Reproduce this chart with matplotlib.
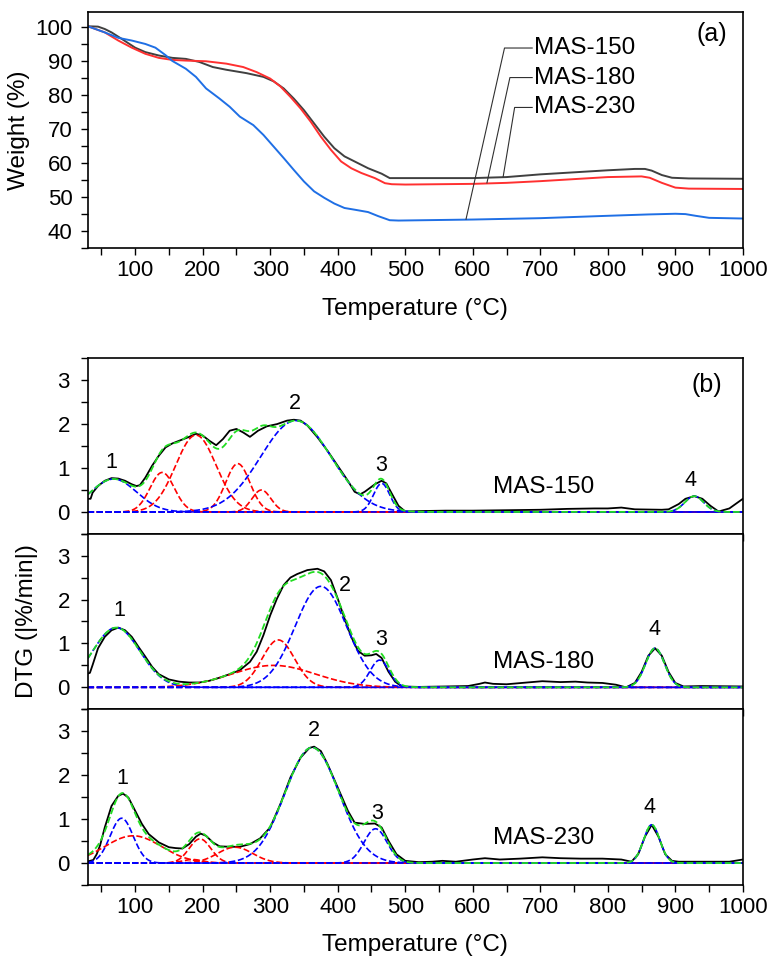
import numpy as np
import matplotlib.pyplot as plt
from matplotlib.ticker import MultipleLocator

plt.rcParams['font.family'] = ['Liberation Sans', 'DejaVu Sans']

# ---------------- (a) TGA curves ----------------
tga150_t = [30, 45, 55, 65, 80, 100, 115, 135, 155, 175, 195, 215, 235, 265, 290, 305, 320, 335,
            350, 365, 380, 395, 410, 425, 445, 465, 477, 500, 600, 650, 700, 750, 800, 840, 855,
            865, 880, 895, 920, 1000]
tga150_w = [100.3, 100.2, 99.5, 98.5, 96.6, 94.0, 92.7, 91.7, 91.0, 90.7, 89.8, 88.3, 87.5, 86.5,
            85.4, 84.1, 82.0, 79.0, 75.6, 71.7, 67.8, 64.4, 62.0, 60.5, 58.5, 56.9, 55.6, 55.6,
            55.6, 55.9, 56.7, 57.3, 57.9, 58.3, 58.3, 57.8, 56.5, 55.7, 55.5, 55.4]

tga180_t = [30, 55, 75, 95, 115, 135, 155, 175, 205, 235, 260, 280, 300, 315, 330, 345, 360, 375,
            390, 405, 420, 435, 455, 470, 480, 500, 600, 650, 700, 750, 800, 850, 862, 880, 900,
            920, 1000]
tga180_w = [100.3, 98.5, 96.1, 94.0, 92.2, 91.0, 90.4, 90.2, 90.0, 89.3, 88.3, 86.8, 84.9, 82.6,
            79.5, 76.1, 72.2, 67.8, 63.9, 60.5, 58.5, 57.1, 55.6, 54.1, 53.8, 53.7, 53.9, 54.2,
            54.7, 55.3, 55.9, 56.1, 55.7, 54.2, 52.8, 52.5, 52.4]

tga230_t = [30, 55, 75, 95, 115, 130, 145, 155, 175, 190, 205, 225, 240, 255, 275, 290, 305, 320,
            335, 350, 365, 380, 395, 410, 425, 445, 460, 477, 490, 600, 700, 800, 860, 900, 915,
            930, 950, 1000]
tga230_w = [100.3, 98.5, 96.9, 96.1, 95.1, 94.0, 91.8, 90.1, 87.8, 85.4, 82.0, 79.0, 76.6, 73.7,
            71.2, 68.3, 64.9, 61.5, 58.0, 54.6, 51.7, 49.8, 48.1, 46.8, 46.3, 45.6, 44.4, 43.2,
            43.1, 43.4, 43.8, 44.5, 44.9, 45.1, 45.0, 44.5, 43.9, 43.7]

tga_names = ['MAS-150', 'MAS-180', 'MAS-230']
# leader lines: text height, elbow T, end point on curve
lead_text_y = [93.9, 85.2, 76.4]
lead_elbow_t = [647, 655, 662]
lead_end_t = [590, 621, 645]
lead_end_w = [43.5, 54.2, 56.0]

# ---------------- (b) DTG curves ----------------
dtg150_t = [31, 34, 37, 45, 55, 65, 75, 85, 95, 102, 107, 115, 125, 135, 145, 155, 170, 180, 190,
            200, 210, 220, 230, 240, 250, 260, 270, 282, 295, 310, 325, 335, 345, 355, 370, 385,
            400, 415, 425, 433, 440, 455, 465, 472, 480, 490, 500, 520, 560, 600, 650, 700, 740,
            780, 800, 820, 840, 880, 890, 905, 915, 928, 940, 952, 964, 980, 1000]
dtg150_v = [0.30, 0.30, 0.44, 0.59, 0.71, 0.77, 0.76, 0.71, 0.63, 0.59, 0.61, 0.78, 1.05, 1.28,
            1.47, 1.56, 1.65, 1.71, 1.78, 1.74, 1.62, 1.52, 1.66, 1.85, 1.89, 1.81, 1.71, 1.85,
            1.95, 2.00, 2.08, 2.10, 2.08, 1.97, 1.70, 1.39, 1.05, 0.71, 0.46, 0.40, 0.46, 0.63,
            0.71, 0.65, 0.42, 0.14, 0.01, 0.02, 0.03, 0.03, 0.04, 0.05, 0.07, 0.08, 0.08, 0.10,
            0.06, 0.05, 0.06, 0.18, 0.30, 0.36, 0.30, 0.14, 0.01, 0.08, 0.30]

dtg180_t = [31, 33, 37, 45, 55, 65, 75, 85, 95, 105, 115, 125, 135, 150, 165, 180, 195, 210, 225,
            240, 255, 270, 280, 290, 300, 310, 320, 330, 340, 355, 370, 380, 390, 400, 410, 420,
            430, 440, 450, 457, 465, 475, 485, 495, 520, 560, 593, 610, 618, 630, 650, 680, 703,
            730, 752, 770, 792, 812, 827, 840, 850, 860, 870, 880, 890, 900, 912, 940, 1000]
dtg180_v = [0.32, 0.33, 0.51, 0.89, 1.15, 1.30, 1.36, 1.30, 1.15, 0.92, 0.70, 0.47, 0.30, 0.18,
            0.13, 0.11, 0.11, 0.15, 0.22, 0.30, 0.39, 0.58, 0.81, 1.19, 1.64, 2.02, 2.33, 2.50,
            2.58, 2.67, 2.70, 2.64, 2.44, 2.02, 1.57, 1.15, 0.83, 0.72, 0.73, 0.76, 0.67, 0.36,
            0.13, 0.02, 0.01, 0.02, 0.03, 0.08, 0.11, 0.08, 0.07, 0.11, 0.14, 0.12, 0.13, 0.11,
            0.10, 0.06, 0.00, 0.10, 0.35, 0.72, 0.89, 0.72, 0.35, 0.10, 0.02, 0.03, 0.02]

dtg230_t = [31, 38, 43, 48, 55, 65, 75, 82, 90, 100, 110, 120, 135, 150, 160, 170, 180, 190, 197,
            205, 215, 225, 240, 255, 270, 285, 300, 315, 330, 345, 358, 365, 375, 385, 400, 415,
            425, 440, 455, 465, 475, 487, 500, 520, 540, 555, 575, 600, 618, 640, 670, 703, 730,
            760, 792, 820, 835, 845, 855, 865, 875, 885, 895, 905, 950, 980, 1000]
dtg230_v = [0.04, 0.07, 0.20, 0.40, 0.81, 1.30, 1.53, 1.58, 1.49, 1.19, 0.89, 0.66, 0.47, 0.36,
            0.34, 0.33, 0.43, 0.60, 0.67, 0.62, 0.47, 0.38, 0.37, 0.37, 0.43, 0.56, 0.81, 1.34,
            1.95, 2.40, 2.62, 2.65, 2.55, 2.25, 1.72, 1.19, 0.92, 0.89, 0.90, 0.81, 0.51, 0.20,
            0.05, 0.02, 0.03, 0.05, 0.03, 0.08, 0.11, 0.08, 0.10, 0.13, 0.11, 0.10, 0.10, 0.08,
            0.03, 0.20, 0.60, 0.87, 0.60, 0.20, 0.05, 0.03, 0.03, 0.03, 0.08]

# deconvolution peaks: centre (°C), height, sigma (°C), colour
pk150_c = [68, 140, 190, 252, 287, 338, 465, 928]
pk150_h = [0.75, 0.90, 1.75, 1.10, 0.50, 2.08, 0.65, 0.36]
pk150_s = [34, 18, 30, 18, 14, 52, 12, 14]
pk150_col = ['b', 'r', 'r', 'r', 'r', 'b', 'b', 'b']

pk180_c = [72, 305, 312, 375, 462, 870]
pk180_h = [1.36, 0.50, 1.08, 2.30, 0.62, 0.89]
pk180_s = [35, 62, 24, 38, 14, 14]
pk180_col = ['b', 'r', 'r', 'b', 'b', 'b']

pk230_c = [80, 97, 185, 196, 248, 362, 456, 865]
pk230_h = [1.02, 0.62, 0.08, 0.55, 0.36, 2.63, 0.78, 0.87]
pk230_s = [17, 42, 15, 16, 26, 40, 17, 12]
pk230_col = ['b', 'r', 'r', 'r', 'r', 'b', 'b', 'b']

# peak number labels (T, y)
num150 = [(65, 1.13), (337, 2.46), (465, 1.05), (922, 0.72)]
num180 = [(77, 1.76), (410, 2.33), (465, 1.08), (869, 1.31)]
num230 = [(81, 1.93), (365, 3.02), (459, 1.13), (861, 1.27)]

fig = plt.figure(figsize=(7.71, 9.69), dpi=100)

FS_TICK = 16
FS_LAB = 17.5

# ---------- panel (a) ----------
ax = fig.add_axes([0.114, 0.744, 0.8495, 0.2436])
ax.plot(tga150_t, tga150_w, color='#404040', lw=1.4)
ax.plot(tga180_t, tga180_w, color='#ff3030', lw=1.4)
ax.plot(tga230_t, tga230_w, color='#1f6fe5', lw=1.4)
for i, name in enumerate(tga_names):
    ax.plot([688, lead_elbow_t[i], lead_end_t[i]],
            [lead_text_y[i], lead_text_y[i], lead_end_w[i]], color='#303030', lw=0.8)
    ax.text(690, lead_text_y[i], name, fontsize=17.5, va='center', ha='left')
ax.text(0.976, 0.907, '(a)', transform=ax.transAxes, fontsize=18, ha='right', va='center')
ax.set_xlim(30, 1000)
ax.set_ylim(35, 104.5)
ax.set_xticks([100, 200, 300, 400, 500, 600, 700, 800, 900, 1000])
ax.xaxis.set_minor_locator(MultipleLocator(50))
ax.yaxis.set_major_locator(MultipleLocator(10))
ax.yaxis.set_minor_locator(MultipleLocator(5))
ax.tick_params(which='both', direction='out', length=5, width=1, labelsize=FS_TICK)
ax.tick_params(axis='y', pad=6)
ax.set_xlabel('Temperature (°C)', fontsize=FS_LAB, labelpad=12)
ax.set_ylabel('Weight (%)', fontsize=FS_LAB, labelpad=4)
for sp in ax.spines.values():
    sp.set_linewidth(1.2)

# ---------- panel (b) ----------
T = np.linspace(30, 1000, 971)
panels = [
    (dtg150_t, dtg150_v, pk150_c, pk150_h, pk150_s, pk150_col, num150, 'MAS-150', 0.449),
    (dtg180_t, dtg180_v, pk180_c, pk180_h, pk180_s, pk180_col, num180, 'MAS-180', 0.268),
    (dtg230_t, dtg230_v, pk230_c, pk230_h, pk230_s, pk230_col, num230, 'MAS-230', 0.0867),
]
axes = []
for k, (tt, vv, pc, ph, ps, pcol, nums, name, bot) in enumerate(panels):
    axb = fig.add_axes([0.114, bot, 0.8495, 0.1813])
    axes.append(axb)
    axb.plot(tt, vv, color='black', lw=1.3)
    fit = np.zeros_like(T)
    for c, h, s, col in zip(pc, ph, ps, pcol):
        g = h * np.exp(-(T - c) ** 2 / (2 * s ** 2))
        fit += g
        axb.plot(T, g, ls='--', lw=1.2, color='#ff0000' if col == 'r' else '#0000ff')
    axb.plot(T, fit, ls='--', lw=1.3, color='#22dd22')
    for j, (x, y) in enumerate(nums):
        axb.text(x, y, str(j + 1), fontsize=15.5, ha='center', va='center')
    axb.text(705, 0.57, name, fontsize=17.5, ha='center', va='center')
    axb.set_xlim(30, 1000)
    axb.set_ylim(-0.5, 3.5)
    axb.set_xticks([100, 200, 300, 400, 500, 600, 700, 800, 900, 1000])
    axb.xaxis.set_minor_locator(MultipleLocator(50))
    axb.set_yticks([0, 1, 2, 3])
    axb.yaxis.set_minor_locator(MultipleLocator(0.5))
    axb.tick_params(which='both', direction='out', length=5, width=1, labelsize=FS_TICK)
    axb.tick_params(axis='y', pad=8)
    if k < 2:
        axb.tick_params(axis='x', labelbottom=False)
    for sp in axb.spines.values():
        sp.set_linewidth(1.2)

axes[0].text(0.969, 0.846, '(b)', transform=axes[0].transAxes, fontsize=18, ha='right', va='center')
axes[1].set_ylabel('DTG (|%/min|)', fontsize=FS_LAB, labelpad=14)
axes[2].set_xlabel('Temperature (°C)', fontsize=FS_LAB, labelpad=12)

fig.savefig('out.png', dpi=100)
